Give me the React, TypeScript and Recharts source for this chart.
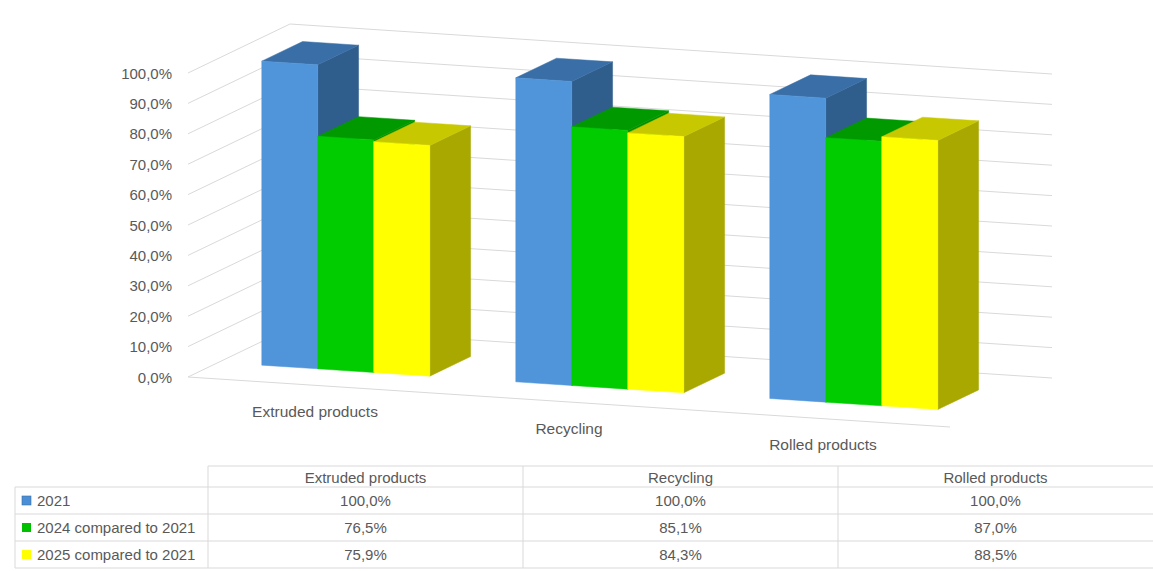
import React from 'react';
import { BarChart, Bar, XAxis, YAxis, CartesianGrid } from 'recharts';

// ---------- data ----------
const categories = ['Extruded products', 'Recycling', 'Rolled products'];
const seriesNames = ['2021', '2024 compared to 2021', '2025 compared to 2021'];
const values2021 = [1.0, 1.0, 1.0];
const values2024 = [0.765, 0.851, 0.87];
const values2025 = [0.759, 0.843, 0.885];
const yTicks = [0, 0.1, 0.2, 0.3, 0.4, 0.5, 0.6, 0.7, 0.8, 0.9, 1.0];

const data = categories.map((name, i) => ({
  name,
  s2021: values2021[i],
  s2024: values2024[i],
  s2025: values2025[i],
}));
const seriesValues = [values2021, values2024, values2025];

// ---------- layout ----------
const W = 1153;
const H = 571;
const PL = 188; // plot left (front plane)
const PT = 73; // plot top
const PW = 762; // plot width
const PB = 377; // plot bottom
const YAXIS_W = 60;
const XAXIS_H = 30;
const SLOPE = 50 / 762; // floor front edge slope
const DX = 102; // depth vector
const DY = -49;
const D0 = 0.3; // bar front depth
const D1 = 0.7; // bar back depth

const GRID = '#d9d9d9';
const TEXT = '#595959';
const FONT = '"Liberation Sans", Arial, sans-serif';

const colors = [
  { front: '#5095d9', top: '#3a6ea6', side: '#2f5d8c', legend: '#4a8fd6' },
  { front: '#00cc00', top: '#009a00', side: '#009000', legend: '#00c000' },
  { front: '#ffff00', top: '#c8c800', side: '#a8a800', legend: '#ffff00' },
];

const proj = (px: number, py: number, d: number): [number, number] => [
  px + DX * d,
  py + (px - PL) * SLOPE + DY * d,
];
const pts = (arr: [number, number][]) => arr.map((p) => `${p[0].toFixed(2)},${p[1].toFixed(2)}`).join(' ');

const fmtPct = (v: number) => (v * 100).toFixed(1).replace('.', ',') + '%';

const makeShape = (c: { front: string; top: string; side: string }) => (props: any) => {
  const { x, y, width, height } = props;
  if (x == null || y == null) return <g />;
  const x0 = x;
  const x1 = x + width;
  const yt = y;
  const yb = y + height;
  const front: [number, number][] = [proj(x0, yb, D0), proj(x1, yb, D0), proj(x1, yt, D0), proj(x0, yt, D0)];
  const top: [number, number][] = [proj(x0, yt, D0), proj(x1, yt, D0), proj(x1, yt, D1), proj(x0, yt, D1)];
  const side: [number, number][] = [proj(x1, yb, D0), proj(x1, yb, D1), proj(x1, yt, D1), proj(x1, yt, D0)];
  return (
    <g>
      <polygon points={pts(side)} fill={c.side} stroke={c.side} strokeWidth={0.5} />
      <polygon points={pts(top)} fill={c.top} stroke={c.top} strokeWidth={0.5} />
      <polygon points={pts(front)} fill={c.front} stroke={c.front} strokeWidth={0.5} />
    </g>
  );
};

// wall grid lines drawn from the grid's own (scale-derived) horizontal lines
const WallLine = (props: any) => {
  const { y1, x1 } = props;
  if (y1 == null) return <g />;
  const y = y1;
  const bx = PL + DX;
  const by = y + DY;
  const isFloor = Math.abs(y - PB) < 0.5;
  return (
    <g>
      <line x1={PL} y1={y} x2={bx} y2={by} stroke={GRID} strokeWidth={1} />
      <line x1={bx} y1={by} x2={bx + PW} y2={by + PW * SLOPE} stroke={GRID} strokeWidth={1} />
      {isFloor && <line x1={PL} y1={y} x2={PL + PW} y2={y + PW * SLOPE} stroke={GRID} strokeWidth={1} />}
    </g>
  );
};

const YTick = (props: any) => {
  const { y, payload } = props;
  return (
    <text x={172} y={y} textAnchor="end" dominantBaseline="central" fill={TEXT} fontSize={15} fontFamily={FONT}>
      {fmtPct(payload.value as number)}
    </text>
  );
};

const XTick = (props: any) => {
  const { x, payload } = props;
  const ly = PB + (x - PL) * SLOPE + 26;
  return (
    <text x={x} y={ly} textAnchor="middle" dominantBaseline="central" fill={TEXT} fontSize={15.5} fontFamily={FONT}>
      {payload.value}
    </text>
  );
};

// ---------- table ----------
const TBL_TOP = 466;
const ROW_Y = [487, 514, 541, 568];
const COL_X = [208, 523, 838, 1153];
const TBL_LEFT = 15;

const DataTable = () => {
  const colCenters = [0, 1, 2].map((i) => (COL_X[i] + COL_X[i + 1]) / 2);
  return (
    <svg width={W} height={H} style={{ position: 'absolute', left: 0, top: 0, pointerEvents: 'none' }}>
      <line x1={COL_X[0]} y1={TBL_TOP} x2={W} y2={TBL_TOP} stroke={GRID} />
      {ROW_Y.map((ry) => (
        <line key={ry} x1={TBL_LEFT} y1={ry} x2={W} y2={ry} stroke={GRID} />
      ))}
      <line x1={TBL_LEFT} y1={ROW_Y[0]} x2={TBL_LEFT} y2={ROW_Y[3]} stroke={GRID} />
      {COL_X.slice(0, 3).map((cx) => (
        <line key={cx} x1={cx} y1={TBL_TOP} x2={cx} y2={ROW_Y[3]} stroke={GRID} />
      ))}
      {categories.map((c, i) => (
        <text
          key={c}
          x={colCenters[i]}
          y={(TBL_TOP + ROW_Y[0]) / 2 + 1}
          textAnchor="middle"
          dominantBaseline="central"
          fill={TEXT}
          fontSize={15}
          fontFamily={FONT}
        >
          {c}
        </text>
      ))}
      {seriesNames.map((s, r) => {
        const cy = (ROW_Y[r] + ROW_Y[r + 1]) / 2;
        return (
          <g key={s}>
            <rect x={22} y={cy - 4.5} width={9} height={9} fill={colors[r].legend} stroke={r === 0 ? '#3a6ea6' : 'none'} strokeWidth={0.6} />
            <text x={37} y={cy} dominantBaseline="central" fill={TEXT} fontSize={15} fontFamily={FONT}>
              {s}
            </text>
            {seriesValues[r].map((v, i) => (
              <text
                key={i}
                x={colCenters[i]}
                y={cy}
                textAnchor="middle"
                dominantBaseline="central"
                fill={TEXT}
                fontSize={15}
                fontFamily={FONT}
              >
                {fmtPct(v)}
              </text>
            ))}
          </g>
        );
      })}
    </svg>
  );
};

export default function App() {
  return (
    <div style={{ position: 'absolute', left: 0, top: 0, width: W, height: H, background: '#fff' }}>
      <div style={{ position: 'absolute', left: 0, top: 0 }}>
        <BarChart
          width={W}
          height={H}
          data={data}
          margin={{ top: PT, left: PL - YAXIS_W, right: W - (PL + PW), bottom: H - PB - XAXIS_H }}
          barCategoryGap="17%"
          barGap={0}
          style={{ overflow: 'visible' }}
        >
          <CartesianGrid vertical={false} horizontal={(p: any) => <WallLine key={p.key ?? p.y1} {...p} />} />
          <YAxis
            width={YAXIS_W}
            domain={[0, 1]}
            ticks={yTicks}
            interval={0}
            axisLine={false}
            tickLine={false}
            tick={<YTick />}
          />
          <XAxis dataKey="name" height={XAXIS_H} axisLine={false} tickLine={false} interval={0} tick={<XTick />} />
          <Bar dataKey="s2021" name={seriesNames[0]} isAnimationActive={false} shape={makeShape(colors[0])} />
          <Bar dataKey="s2024" name={seriesNames[1]} isAnimationActive={false} shape={makeShape(colors[1])} />
          <Bar dataKey="s2025" name={seriesNames[2]} isAnimationActive={false} shape={makeShape(colors[2])} />
        </BarChart>
      </div>
      <DataTable />
    </div>
  );
}
